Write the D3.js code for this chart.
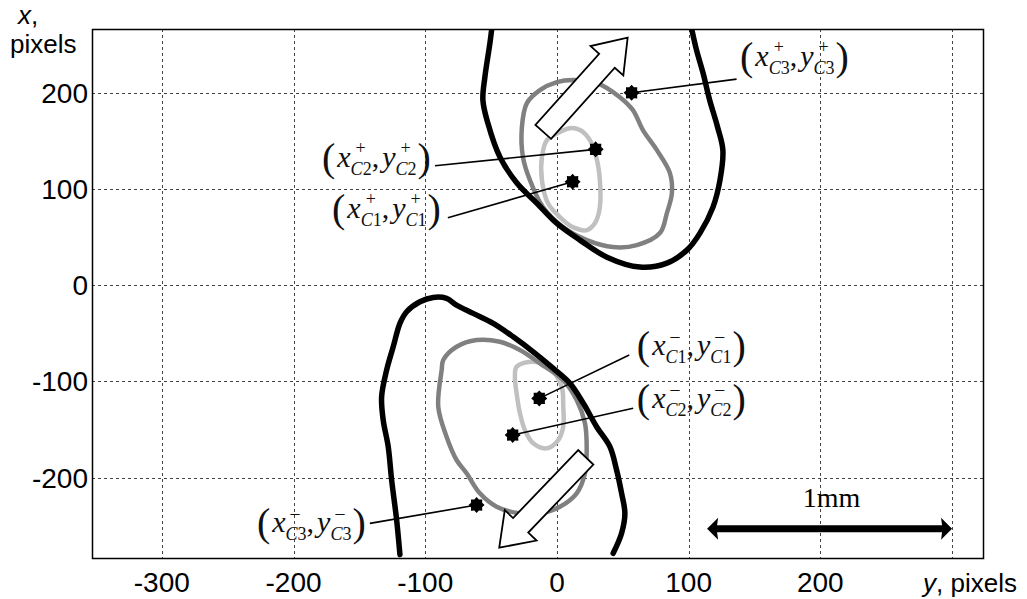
<!DOCTYPE html>
<html>
<head>
<meta charset="utf-8">
<script src="https://cdn.jsdelivr.net/npm/d3@7"></script>
<style>
  body { margin: 0; background: #fff; }
</style>
</head>
<body>
<svg id="chart" width="1027" height="599"></svg>
<script>
// horizontal axis = y (pixels), vertical axis = x (pixels); points are [y, x]
const hTicks = [-300, -200, -100, 0, 100, 200];
const hGrid = [-300, -200, -100, 0, 100, 200, 300];
const vTicks = [-200, -100, 0, 100, 200];

// upper spot (+)
const upperOuter = [[-49.6,265],[-50.9,251],[-54.7,216],[-56.2,192],[-52.4,168],[-43.3,133],[-30.4,106],[-15.2,85],
  [0,64],[17.5,46.7],[38,29],[63,18.7],[83.5,22.8],[98.7,36.3],[108.6,54],[118.5,81],[123.8,109],[126,140],
  [122,164],[116,192],[111,220],[106,244],[102.5,265]];
const upperMid = [[12.1,212.9],[30.4,209.8],[47.8,195.2],[57.7,181.7],[65.3,161],[75.9,140.2],[85.8,116.3],[87.3,95.5],
  [83.5,74.8],[78.2,54],[60.7,41.5],[42.5,39.5],[22.8,46.7],[4.6,60.2],[-10.6,81],[-20.5,109],[-25.8,133],
  [-26.6,164],[-22.8,189],[-12.9,202.5],[0,210.8]];
const upperInner = [[17.5,161],[25,150.6],[30.4,129.8],[32.6,109],[32.6,81],[28.9,64.4],[22.8,57.1],[12.1,60.2],
  [2.3,70.6],[-6.8,85],[-11.4,109],[-11.4,133],[-7.6,150.6],[2.3,159],[9.9,163]];

// lower spot (-)
const lowerOuter = [[-119.2,-280],[-121.7,-244],[-125.5,-202.5],[-128.1,-167.9],[-131.9,-140.2],[-133.1,-116],[-129.3,-88.3],
  [-124.3,-64.1],[-119.2,-39.8],[-114.1,-27.7],[-104,-17.3],[-93.9,-12.8],[-83.8,-13.8],[-76.2,-20.8],[-63.6,-29.4],
  [-48.4,-39.8],[-33.2,-53.7],[-18,-69.3],[-2.8,-86.5],[9.9,-102.1],[20,-122.8],[30.1,-147.1],[40.2,-167.9],
  [45.3,-192.1],[49.1,-216.3],[51.6,-237.1],[49.1,-257.8],[42.7,-278.6]];
const lowerMid = [[-86.3,-77.9],[-76.2,-64.1],[-61,-57.1],[-43.3,-58.9],[-28.1,-67.5],[-12.9,-81.3],[4.8,-98.7],[15,-119.4],
  [21.3,-143.6],[22.6,-171.3],[21.3,-195.5],[15,-216.3],[2.3,-230.2],[-12.9,-237.1],[-28.1,-237.1],[-45.8,-230.2],
  [-58.5,-216.3],[-68.6,-195.5],[-76.2,-181.7],[-83.8,-157.5],[-90.1,-126.4],[-87.5,-88.3]];
const lowerInner = [[-30.6,-84.8],[-18,-79.6],[-5.3,-86.5],[3.6,-105.6],[4.8,-126.4],[4.8,-147.1],[1,-161],[-7.8,-169.6],
  [-18,-164.4],[-24.3,-150.6],[-28.1,-133.2],[-30.6,-112.5],[-31.9,-95.2]];

// centroids, label anchor (left, baseline) and leader end
const centroids = [
  { sign: '+', idx: '3', pos: [56.7, 199.7], label: [139, 227.4], lead: [136.4, 213.9] },
  { sign: '+', idx: '2', pos: [29.4, 141], label: [-178.4, 122.5], lead: [-92.6, 123.9] },
  { sign: '+', idx: '1', pos: [11.9, 107.3], label: [-170.8, 69.7], lead: [-82.8, 69.9] },
  { sign: '-', idx: '1', pos: [-13.4, -117.7], label: [60.7, -72.7], lead: [54.9, -72.7] },
  { sign: '-', idx: '2', pos: [-33.6, -155.8], label: [60.7, -127.7], lead: [57.9, -128] },
  { sign: '-', idx: '3', pos: [-61, -228.5], label: [-227.8, -256.5], lead: [-142, -247.5] }
];

// motion arrows (tail -> tip)
const motionArrows = [
  { tail: [-10.4, 159.2], tip: [53.7, 257] },
  { tail: [21.9, -178.9], tip: [-43.8, -272.8] }
];

const scaleBar = { from: 114, to: 300, at: -253, text: '1mm' };

const svg = d3.select('#chart');
const plotL = 92, plotR = 983, plotT = 29, plotB = 558;
const hScale = d3.scaleLinear().domain([-353, 323.5]).range([plotL, plotR]);
const vScale = d3.scaleLinear().domain([-283.5, 266]).range([plotB, plotT]);
const sans = 'Liberation Sans, Arial, Helvetica, sans-serif';
const serif = 'Liberation Serif, Times New Roman, serif';

svg.append('rect').attr('width', 1027).attr('height', 599).attr('fill', '#fff');

svg.append('defs').append('clipPath').attr('id', 'plot')
  .append('rect').attr('x', plotL).attr('y', plotT).attr('width', plotR - plotL).attr('height', plotB - plotT);

// grid
const grid = svg.append('g').attr('stroke', '#444').attr('stroke-width', 1).attr('stroke-dasharray', '3,3');
grid.selectAll('line.v').data(hGrid).join('line').attr('class', 'v')
  .attr('x1', d => Math.round(hScale(d)) + 0.5).attr('x2', d => Math.round(hScale(d)) + 0.5)
  .attr('y1', plotT).attr('y2', plotB);
grid.selectAll('line.h').data(vTicks).join('line').attr('class', 'h')
  .attr('y1', d => Math.round(vScale(d)) + 0.5).attr('y2', d => Math.round(vScale(d)) + 0.5)
  .attr('x1', plotL).attr('x2', plotR);

// contours
const plot = svg.append('g').attr('clip-path', 'url(#plot)');
const openLine = d3.line().x(d => hScale(d[0])).y(d => vScale(d[1])).curve(d3.curveCatmullRom);
const closedLine = d3.line().x(d => hScale(d[0])).y(d => vScale(d[1])).curve(d3.curveCatmullRomClosed);
const contours = [
  { pts: upperInner, closed: true, color: '#c0c0c0', w: 4.5 },
  { pts: upperMid, closed: true, color: '#808080', w: 4.5 },
  { pts: upperOuter, closed: false, color: '#000', w: 5.5 },
  { pts: lowerInner, closed: true, color: '#c0c0c0', w: 4.5 },
  { pts: lowerMid, closed: true, color: '#808080', w: 4.5 },
  { pts: lowerOuter, closed: false, color: '#000', w: 5.5 }
];
plot.selectAll('path.contour').data(contours).join('path').attr('class', 'contour')
  .attr('d', d => (d.closed ? closedLine : openLine)(d.pts))
  .attr('fill', 'none').attr('stroke', d => d.color).attr('stroke-width', d => d.w)
  .attr('stroke-linejoin', 'round').attr('stroke-linecap', 'round');

// hollow arrows
function arrowPoints(t, p, sh, hh, hl) {
  const dx = p[0] - t[0], dy = p[1] - t[1];
  const L = Math.hypot(dx, dy), ux = dx / L, uy = dy / L, nx = -uy, ny = ux;
  const bx = p[0] - ux * hl, by = p[1] - uy * hl;
  return [[t[0] + nx * sh, t[1] + ny * sh], [bx + nx * sh, by + ny * sh], [bx + nx * hh, by + ny * hh], p,
    [bx - nx * hh, by - ny * hh], [bx - nx * sh, by - ny * sh], [t[0] - nx * sh, t[1] - ny * sh]];
}
svg.selectAll('polygon.motion').data(motionArrows).join('polygon').attr('class', 'motion')
  .attr('points', d => arrowPoints([hScale(d.tail[0]), vScale(d.tail[1])], [hScale(d.tip[0]), vScale(d.tip[1])], 10.5, 22, 31).join(' '))
  .attr('fill', '#fff').attr('stroke', '#000').attr('stroke-width', 1.8).attr('stroke-linejoin', 'miter');

// leader lines
svg.selectAll('line.lead').data(centroids).join('line').attr('class', 'lead')
  .attr('x1', d => hScale(d.lead[0])).attr('y1', d => vScale(d.lead[1]))
  .attr('x2', d => hScale(d.pos[0])).attr('y2', d => vScale(d.pos[1]))
  .attr('stroke', '#000').attr('stroke-width', 1.6);

// star markers
const starPath = (() => {
  const p = d3.path();
  for (let i = 0; i < 16; i++) {
    const r = i % 2 === 0 ? 8 : 6, a = i * Math.PI / 8;
    if (i === 0) p.moveTo(r * Math.cos(a), r * Math.sin(a)); else p.lineTo(r * Math.cos(a), r * Math.sin(a));
  }
  p.closePath();
  return p.toString();
})();
svg.selectAll('path.marker').data(centroids).join('path').attr('class', 'marker')
  .attr('d', starPath)
  .attr('transform', d => `translate(${hScale(d.pos[0])},${vScale(d.pos[1])})`)
  .attr('fill', '#000');

// math labels (x^s_Ci, y^s_Ci)
function mathLabel(d) {
  const g = svg.append('g').attr('font-family', serif).attr('fill', '#111');
  let cx = hScale(d.label[0]);
  const by = vScale(d.label[1]);
  const put = (txt, size, style, dy) => {
    const t = g.append('text').attr('x', cx).attr('y', by + dy).attr('font-size', size)
      .attr('font-style', style).text(txt);
    return t.node().getComputedTextLength();
  };
  const supsub = () => {
    const x0 = cx;
    const t = g.append('text').attr('x', cx).attr('y', by + 8).attr('font-size', 18);
    t.append('tspan').attr('font-style', 'italic').text('C');
    t.append('tspan').text(d.idx);
    const w = t.node().getComputedTextLength();
    g.append('text').attr('x', x0 + 5).attr('y', by - 13).attr('font-size', 18)
      .text(d.sign === '+' ? '+' : '\u2012');
    cx += w;
  };
  cx += put('(', 40, 'normal', 4) + 2;
  cx += put('x', 30, 'italic', 0);
  supsub();
  cx += put(',', 30, 'normal', 0) + 3;
  cx += put('y', 30, 'italic', 0);
  supsub();
  cx += 1;
  put(')', 40, 'normal', 4);
}
centroids.forEach(mathLabel);

// scale bar
const sbY = vScale(scaleBar.at);
svg.append('polygon')
  .attr('points', (() => {
    const x1 = hScale(scaleBar.from), x2 = hScale(scaleBar.to), hl = 11, hh = 11, sh = 3.5;
    return [[x1, sbY], [x1 + hl, sbY - hh], [x1 + hl - 1, sbY - sh], [x2 - hl + 1, sbY - sh], [x2 - hl, sbY - hh], [x2, sbY],
      [x2 - hl, sbY + hh], [x2 - hl + 1, sbY + sh], [x1 + hl - 1, sbY + sh], [x1 + hl, sbY + hh]].join(' ');
  })())
  .attr('fill', '#000');
svg.append('text')
  .attr('x', (hScale(scaleBar.from) + hScale(scaleBar.to)) / 2 + 2).attr('y', sbY - 22)
  .attr('text-anchor', 'middle').attr('font-family', serif).attr('font-size', 28)
  .text(scaleBar.text);

// frame
svg.append('rect').attr('x', plotL + 0.5).attr('y', plotT + 0.5).attr('width', plotR - plotL).attr('height', plotB - plotT)
  .attr('fill', 'none').attr('stroke', '#000').attr('stroke-width', 1.5);

// tick labels
svg.append('g').selectAll('text').data(hTicks).join('text')
  .attr('x', d => hScale(d)).attr('y', plotB + 34)
  .attr('text-anchor', 'middle').attr('font-family', sans).attr('font-size', 28)
  .text(d => d);
svg.append('g').selectAll('text').data(vTicks).join('text')
  .attr('x', plotL - 4).attr('y', d => vScale(d)).attr('dy', '0.36em')
  .attr('text-anchor', 'end').attr('font-family', sans).attr('font-size', 28)
  .text(d => d);

// axis titles
const yTitle = svg.append('text').attr('x', 923).attr('y', plotB + 34)
  .attr('font-family', sans).attr('font-size', 26);
yTitle.append('tspan').attr('font-style', 'italic').text('y');
yTitle.append('tspan').text(', pixels');
const xTitle = svg.append('text').attr('font-family', sans).attr('font-size', 26);
xTitle.append('tspan').attr('x', 18).attr('y', 24).attr('font-style', 'italic').text('x');
xTitle.append('tspan').text(',');
xTitle.append('tspan').attr('x', 10).attr('y', 53).text('pixels');
</script>
</body>
</html>
